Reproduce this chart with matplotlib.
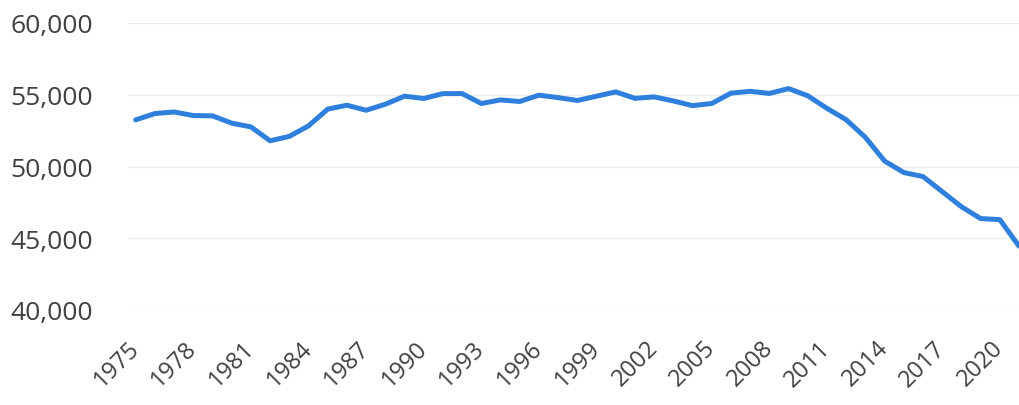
import matplotlib
matplotlib.use("Agg")
import matplotlib.pyplot as plt
from matplotlib.ticker import FuncFormatter, FixedLocator

years = list(range(1975, 2022))
values = [
    53250, 53690, 53800, 53550, 53530, 53020, 52760, 51790, 52100, 52830,
    54000, 54270, 53920, 54340, 54900, 54740, 55080, 55080, 54390, 54640,
    54530, 54970, 54800, 54600, 54900, 55200, 54750, 54850, 54570, 54240,
    54390, 55110, 55240, 55090, 55430, 54930, 54050, 53260, 52030, 50380,
    49580, 49300, 48250, 47200, 46370, 46300, 44450,
]
tick_years = list(range(1975, 2021, 3))
y_ticks = [40000, 45000, 50000, 55000, 60000]

plt.rcParams['font.family'] = ['Open Sans', 'DejaVu Sans']

fig = plt.figure(figsize=(10.19, 4.06), dpi=100)
ax = fig.add_axes([128 / 1019, (406 - 311) / 406, (1019 - 128) / 1019, (311 - 24) / 406])

ax.plot(years, values, color='#2F80DD', linewidth=3.6, solid_capstyle='round',
        solid_joinstyle='round', zorder=3)

ax.set_xlim(1974.6, 2021)
ax.set_ylim(40000, 60000)
ax.yaxis.set_major_locator(FixedLocator(y_ticks))
ax.yaxis.set_major_formatter(FuncFormatter(lambda v, p: f"{int(v):,}"))
ax.set_xticks(tick_years)
ax.set_xticklabels([str(y) for y in tick_years], rotation=45, ha='right',
                   va='center', rotation_mode='anchor')

ax.grid(axis='y', color='#ececec', linewidth=1.0)
ax.set_axisbelow(True)
for s in ax.spines.values():
    s.set_visible(False)
ax.tick_params(axis='both', length=0, colors='#404040')
ax.tick_params(axis='y', labelsize=19, pad=25)
ax.tick_params(axis='x', labelsize=17, pad=24.5)

fig.savefig('out.png', dpi=100, facecolor='white')
